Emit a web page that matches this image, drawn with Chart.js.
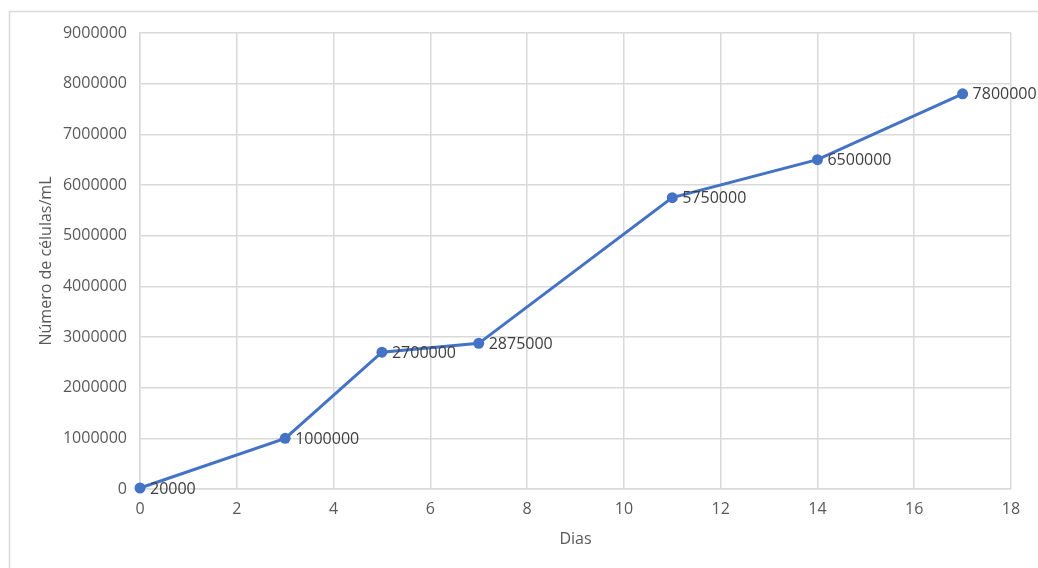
<!DOCTYPE html>
<html>
<head>
<meta charset="utf-8">
<script src="https://cdn.jsdelivr.net/npm/chart.js@4"></script>
<style>
  html, body { margin: 0; padding: 0; background: #fff; }
  #wrap { width: 1038px; height: 568px; }
</style>
</head>
<body>
<div id="wrap"><canvas id="growthChart" width="1038" height="568"></canvas></div>
<script>
// days of culture and cell counts
const days = [0, 3, 5, 7, 11, 14, 17];
const cells = [20000, 1000000, 2700000, 2875000, 5750000, 6500000, 7800000];
const xTicks = [0, 2, 4, 6, 8, 10, 12, 14, 16, 18];
const yTicks = [0, 1000000, 2000000, 3000000, 4000000, 5000000, 6000000, 7000000, 8000000, 9000000];

const FONT = "'Open Sans', sans-serif";
const TEXT = "#595959";
const GRID = "#d9d9d9";
const BLUE = "#4472C4";

// light frame around the chart
const frame = {
  id: "frame",
  beforeDraw(chart) {
    const ctx = chart.ctx;
    ctx.save();
    ctx.fillStyle = "#fff";
    ctx.fillRect(0, 0, chart.width, chart.height);
    ctx.strokeStyle = GRID;
    ctx.lineWidth = 1.5;
    ctx.strokeRect(9.5, 11.5, chart.width + 20, chart.height + 20);
    ctx.restore();
  }
};

// value labels on the right of each point
const valueLabels = {
  id: "valueLabels",
  afterDatasetsDraw(chart) {
    const ctx = chart.ctx;
    const meta = chart.getDatasetMeta(0);
    ctx.save();
    ctx.font = "16px " + FONT;
    ctx.fillStyle = "#404040";
    ctx.textAlign = "left";
    ctx.textBaseline = "middle";
    meta.data.forEach((pt, i) => {
      ctx.fillText(String(cells[i]), pt.x + 10, pt.y + 1);
    });
    ctx.restore();
  }
};

const ctx = document.getElementById("growthChart").getContext("2d");
new Chart(ctx, {
  type: "line",
  data: {
    datasets: [{
      label: "Células",
      data: days.map((d, i) => ({ x: d, y: cells[i] })),
      borderColor: BLUE,
      backgroundColor: BLUE,
      borderWidth: 3,
      pointRadius: 5.5,
      pointBorderWidth: 0,
      tension: 0,
      clip: false
    }]
  },
  options: {
    responsive: false,
    animation: false,
    layout: { padding: { top: 33, right: 27, bottom: 0, left: 0 } },
    plugins: { legend: { display: false }, tooltip: { enabled: false } },
    scales: {
      x: {
        type: "linear",
        min: 0,
        max: 18,
        afterBuildTicks: (s) => { s.ticks = xTicks.map(v => ({ value: v })); },
        afterFit: (s) => { s.height = 79; },
        grid: { color: GRID, lineWidth: 1.5, drawTicks: false },
        border: { color: GRID, width: 1.5 },
        ticks: { color: TEXT, font: { family: FONT, size: 16 }, padding: 11 },
        title: { display: true, text: "Dias", color: TEXT, font: { family: FONT, size: 16 }, padding: 19 }
      },
      y: {
        min: 0,
        max: 9000000,
        afterBuildTicks: (s) => { s.ticks = yTicks.map(v => ({ value: v })); },
        afterFit: (s) => { s.width = 140; },
        grid: { color: GRID, lineWidth: 1.5, drawTicks: false },
        border: { color: GRID, width: 1.5 },
        ticks: { color: TEXT, font: { family: FONT, size: 16 }, padding: 13, callback: (v) => String(v) },
        title: { display: true, text: "Número de células/mL", color: TEXT, font: { family: FONT, size: 16 }, padding: 37 }
      }
    }
  },
  plugins: [frame, valueLabels]
});
</script>
</body>
</html>
